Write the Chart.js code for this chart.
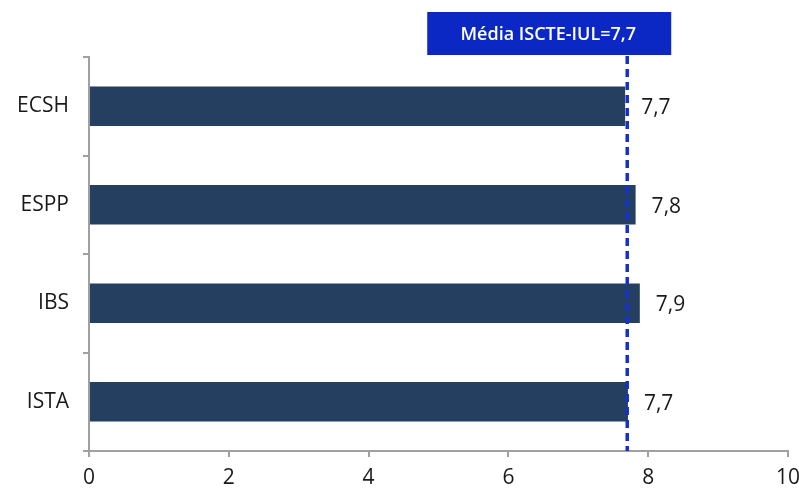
<!DOCTYPE html>
<html>
<head>
<meta charset="utf-8">
<script src="https://cdn.jsdelivr.net/npm/chart.js@4/dist/chart.umd.min.js"></script>
<style>
  html, body { margin: 0; padding: 0; background: #fff; }
  #wrap { width: 799px; height: 488px; }
</style>
</head>
<body>
<div id="wrap"><canvas id="canvas"></canvas></div>
<script>
var escolas = ["ECSH", "ESPP", "IBS", "ISTA"];
var medias = [7.67, 7.82, 7.88, 7.71];
var mediaIscte = 7.7;
var xTicks = [0, 2, 4, 6, 8, 10];

var fmt = function (v) {
    return v.toFixed(1).replace(".", ",");
};

// valores ao lado das barras
var valueLabels = {
    id: 'valueLabels',
    afterDatasetsDraw: function (chart) {
        var ctx = chart.ctx;
        var meta = chart.getDatasetMeta(0);
        ctx.save();
        ctx.fillStyle = '#1a1a1a';
        ctx.font = '21px "Open Sans", sans-serif';
        ctx.textBaseline = 'middle';
        meta.data.forEach(function (bar, i) {
            ctx.fillText(fmt(medias[i]), bar.x + 16, bar.y + 2);
        });
        ctx.restore();
    }
};

// linha da media + caixa
var mediaLine = {
    id: 'mediaLine',
    afterDatasetsDraw: function (chart) {
        var ctx = chart.ctx;
        var x = chart.scales.x.getPixelForValue(mediaIscte);
        var area = chart.chartArea;
        ctx.save();
        ctx.strokeStyle = '#1530d0';
        ctx.lineWidth = 3.5;
        ctx.setLineDash([8, 5]);
        ctx.beginPath();
        ctx.moveTo(x, 56);
        ctx.lineTo(x, area.bottom);
        ctx.stroke();
        ctx.setLineDash([]);

        var bx = x - 200, by = 12, bw = 244, bh = 43;
        ctx.fillStyle = '#0b28c4';
        ctx.fillRect(bx, by, bw, bh);
        ctx.fillStyle = '#ffffff';
        ctx.font = '600 18px "Open Sans", sans-serif';
        ctx.textAlign = 'center';
        ctx.textBaseline = 'middle';
        ctx.fillText('Média ISCTE-IUL=' + fmt(mediaIscte), bx + bw / 2 - 1, by + bh / 2 + 1);
        ctx.restore();
    }
};

window.onload = function () {
    var ctx = document.getElementById("canvas").getContext("2d");
    window.myChart = new Chart(ctx, {
        type: 'bar',
        data: {
            labels: escolas,
            datasets: [{
                data: medias,
                backgroundColor: '#243f60',
                categoryPercentage: 0.4,
                barPercentage: 1.0
            }]
        },
        plugins: [valueLabels, mediaLine],
        options: {
            indexAxis: 'y',
            responsive: true,
            maintainAspectRatio: false,
            animation: false,
            layout: { padding: { top: 57, right: 0, left: 0, bottom: 0 } },
            plugins: {
                legend: { display: false },
                tooltip: { enabled: false }
            },
            scales: {
                x: {
                    min: 0,
                    max: 10,
                    afterBuildTicks: function (axis) {
                        axis.ticks = xTicks.map(function (v) { return { value: v }; });
                    },
                    grid: {
                        drawOnChartArea: false,
                        tickLength: 6,
                        color: '#a0a0a0',
                        lineWidth: 2
                    },
                    border: { color: '#a0a0a0', width: 2 },
                    ticks: {
                        color: '#1a1a1a',
                        padding: 8,
                        font: { size: 21, family: '"Open Sans", sans-serif' }
                    },
                    afterFit: function (axis) {
                        axis.height = 37;
                        axis.paddingRight = 11;
                    }
                },
                y: {
                    grid: {
                        drawOnChartArea: false,
                        offset: true,
                        tickLength: 6,
                        color: '#a0a0a0',
                        lineWidth: 2
                    },
                    border: { color: '#a0a0a0', width: 2 },
                    ticks: {
                        color: '#1a1a1a',
                        padding: 14,
                        font: { size: 21, family: '"Open Sans", sans-serif' }
                    },
                    afterFit: function (axis) { axis.width = 89; }
                }
            }
        }
    });
};
</script>
</body>
</html>
